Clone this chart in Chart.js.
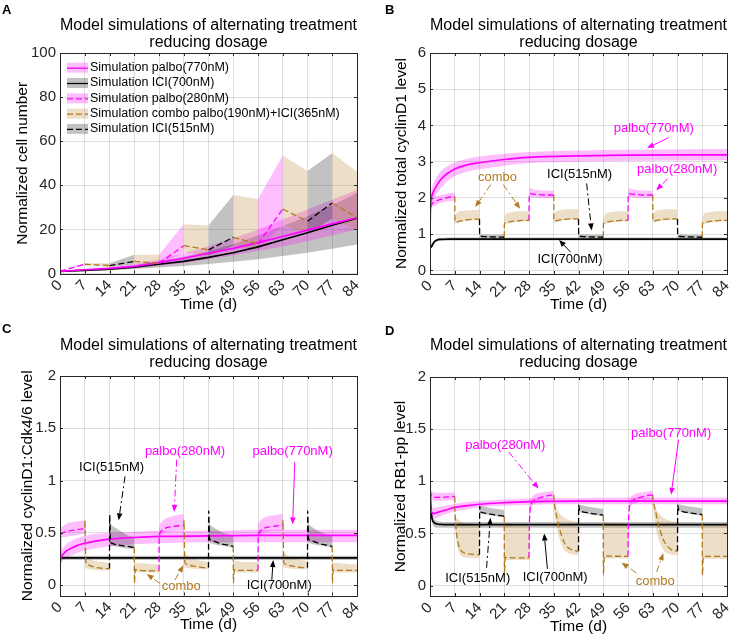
<!DOCTYPE html>
<html><head><meta charset="utf-8"><title>Alternating treatment simulations</title>
<script src="https://cdn.jsdelivr.net/npm/chart.js@4.4.1/dist/chart.umd.min.js"></script>
<style>
html,body{margin:0;padding:0;background:#fff;}
#wrap{position:relative;width:735px;height:639px;overflow:hidden;background:#fff;}
.pnl{position:absolute;}
.pnl canvas{display:block;}
.tag{position:absolute;font:bold 13px "Liberation Sans",Arial,sans-serif;color:#000;line-height:13px;}
</style></head><body>
<div id="wrap">
<div class="pnl" style="left:0;top:0;width:367px;height:320px"><canvas id="cA"></canvas></div>
<div class="pnl" style="left:367px;top:0;width:368px;height:320px"><canvas id="cB"></canvas></div>
<div class="pnl" style="left:0;top:320px;width:367px;height:319px"><canvas id="cC"></canvas></div>
<div class="pnl" style="left:367px;top:320px;width:368px;height:319px"><canvas id="cD"></canvas></div>
<div class="tag" style="left:2px;top:3px">A</div>
<div class="tag" style="left:385px;top:3px">B</div>
<div class="tag" style="left:2px;top:322px">C</div>
<div class="tag" style="left:385px;top:324px">D</div>
</div>
<script>
// ---------------- data ----------------
const days = [0, 7, 14, 21, 28, 35, 42, 49, 56, 63, 70, 77, 84];
const yTicksA = [0, 20, 40, 60, 80, 100];
const yTicksB = [0, 1, 2, 3, 4, 5, 6];
const yTicksCD = [0, 0.5, 1, 1.5, 2];
const altDrug = ['palbo280', 'combo', 'ICI515', 'combo', 'palbo280', 'combo', 'ICI515', 'combo', 'palbo280', 'combo', 'ICI515', 'combo'];
const legendLabels = ['Simulation palbo(770nM)', 'Simulation ICI(700nM)', 'Simulation palbo(280nM)', 'Simulation combo palbo(190nM)+ICI(365nM)', 'Simulation ICI(515nM)'];
const titleLines = ['Model simulations of alternating treatment', 'reducing dosage'];

// Panel A: normalized cell number, weekly samples
const cellPalbo770   = [1, 1.7, 2.3, 3.2, 4.9, 6.9, 9.2, 11.4, 14.0, 16.8, 19.7, 22.5, 25.3];
const cellPalbo770Hi = [1, 2.1, 3.0, 4.4, 6.4, 9.2, 12.4, 16.0, 20.0, 24.5, 29.0, 33.5, 38.0];
const cellPalbo770Lo = [1, 1.4, 1.8, 2.4, 3.5, 4.8, 6.5, 8.2, 10.2, 12.3, 14.6, 17.2, 20.0];
const cellIci700     = [1, 1.4, 2.0, 2.9, 4.2, 5.5, 7.3, 9.4, 12.1, 15.3, 18.5, 21.9, 25.1];
const cellIci700Hi   = [1, 1.8, 2.6, 3.8, 5.6, 7.6, 10.2, 13.3, 17.2, 21.5, 26.0, 31.0, 36.5];
const cellIci700Lo   = [1, 1.1, 1.5, 2.0, 2.7, 3.4, 4.3, 5.3, 6.5, 7.9, 9.4, 11.2, 13.2];
const cellAlt        = [1, 4.2, 3.6, 5.5, 4.6, 12.6, 10.7, 16.4, 13.4, 29.2, 23.7, 32.0, 25.3];
const cellAltHi      = [1, 4.6, 4.6, 8.5, 8.5, 22.3, 21.8, 35.6, 33.8, 53.5, 46.5, 54.6, 46.2];
const cellAltLo      = [1, 3.8, 3.0, 4.2, 3.8, 9.5, 8.0, 12.5, 10.5, 22.0, 18.0, 25.0, 20.0];

// Panels B-D: continuous simulations
const tFine = [0, 0.1, 0.3, 0.6, 1, 2, 3, 5, 7, 10, 14, 21, 28, 42, 56, 84];
const cycPalbo770   = [1.0, 1.6, 1.95, 2.08, 2.18, 2.36, 2.5, 2.68, 2.8, 2.9, 2.97, 3.06, 3.12, 3.16, 3.18, 3.19];
const cycPalbo770Hi = [1.0, 1.75, 2.15, 2.3, 2.42, 2.6, 2.73, 2.88, 2.98, 3.07, 3.14, 3.22, 3.27, 3.31, 3.33, 3.35];
const cycPalbo770Lo = [1.0, 1.45, 1.75, 1.87, 1.95, 2.12, 2.27, 2.47, 2.6, 2.71, 2.79, 2.89, 2.96, 3.0, 3.02, 3.04];
const cycIci700     = [1.0, 0.7, 0.64, 0.68, 0.76, 0.84, 0.855, 0.86, 0.865, 0.865, 0.865, 0.865, 0.865, 0.865, 0.865, 0.865];
const cycIci700Hi   = [1.0, 0.74, 0.68, 0.72, 0.8, 0.88, 0.895, 0.9, 0.905, 0.905, 0.905, 0.905, 0.905, 0.905, 0.905, 0.905];
const cycIci700Lo   = [1.0, 0.66, 0.6, 0.64, 0.72, 0.8, 0.815, 0.82, 0.825, 0.825, 0.825, 0.825, 0.825, 0.825, 0.825, 0.825];

const cdkPalbo770   = [0.14, 0.22, 0.26, 0.28, 0.3, 0.33, 0.35, 0.38, 0.4, 0.42, 0.44, 0.455, 0.465, 0.47, 0.475, 0.475];
const cdkPalbo770Hi = [0.14, 0.26, 0.31, 0.34, 0.36, 0.4, 0.42, 0.45, 0.47, 0.49, 0.5, 0.51, 0.52, 0.52, 0.53, 0.53];
const cdkPalbo770Lo = [0.14, 0.19, 0.21, 0.23, 0.24, 0.26, 0.28, 0.31, 0.33, 0.35, 0.37, 0.39, 0.4, 0.41, 0.41, 0.41];
const cdkIci700     = [1.0, 0.27, 0.26, 0.26, 0.26, 0.26, 0.26, 0.26, 0.26, 0.26, 0.26, 0.26, 0.26, 0.26, 0.26, 0.26];
const cdkIci700Hi   = [1.0, 0.29, 0.28, 0.28, 0.28, 0.28, 0.28, 0.28, 0.28, 0.28, 0.28, 0.28, 0.28, 0.28, 0.28, 0.28];
const cdkIci700Lo   = [1.0, 0.25, 0.24, 0.24, 0.24, 0.24, 0.24, 0.24, 0.24, 0.24, 0.24, 0.24, 0.24, 0.24, 0.24, 0.24];

const rbPalbo770    = [1.0, 0.8, 0.72, 0.7, 0.69, 0.7, 0.71, 0.73, 0.75, 0.765, 0.78, 0.795, 0.805, 0.81, 0.81, 0.81];
const rbPalbo770Hi  = [1.0, 0.84, 0.77, 0.75, 0.745, 0.75, 0.755, 0.77, 0.785, 0.8, 0.81, 0.825, 0.835, 0.84, 0.845, 0.845];
const rbPalbo770Lo  = [1.0, 0.76, 0.67, 0.65, 0.64, 0.65, 0.665, 0.69, 0.71, 0.73, 0.75, 0.765, 0.775, 0.78, 0.78, 0.78];
const rbIci700      = [1.0, 0.85, 0.72, 0.64, 0.61, 0.59, 0.587, 0.585, 0.585, 0.585, 0.585, 0.585, 0.585, 0.585, 0.585, 0.585];
const rbIci700Hi    = [1.0, 0.88, 0.76, 0.68, 0.645, 0.62, 0.612, 0.61, 0.61, 0.61, 0.61, 0.61, 0.61, 0.61, 0.61, 0.61];
const rbIci700Lo    = [1.0, 0.82, 0.68, 0.6, 0.57, 0.555, 0.555, 0.555, 0.555, 0.555, 0.555, 0.555, 0.555, 0.555, 0.555, 0.555];

// Alternating schedule: samples within each 7-day segment (days after segment start)
const segOffsets = [0, 0.05, 0.3, 0.7, 1.5, 3, 5, 7];
const cycAlt = [
  [1.00, 1.50, 1.78, 1.85, 1.90, 1.96, 2.01, 2.04],
  [2.04, 1.40, 1.33, 1.34, 1.36, 1.39, 1.41, 1.42],
  [1.42, 0.96, 0.94, 0.935, 0.93, 0.925, 0.92, 0.915],
  [0.915, 1.30, 1.31, 1.32, 1.34, 1.36, 1.38, 1.38],
  [1.38, 2.00, 2.12, 2.11, 2.10, 2.09, 2.08, 2.08],
  [2.08, 1.42, 1.36, 1.37, 1.39, 1.41, 1.42, 1.42],
  [1.42, 0.96, 0.94, 0.935, 0.93, 0.925, 0.92, 0.915],
  [0.915, 1.30, 1.31, 1.32, 1.34, 1.36, 1.38, 1.38],
  [1.38, 2.00, 2.12, 2.11, 2.10, 2.09, 2.08, 2.08],
  [2.08, 1.42, 1.36, 1.37, 1.39, 1.41, 1.42, 1.42],
  [1.42, 0.96, 0.94, 0.935, 0.93, 0.925, 0.92, 0.915],
  [0.915, 1.30, 1.31, 1.32, 1.34, 1.36, 1.38, 1.38]
];
const cycAltHi = [
  [1.00, 1.60, 1.92, 1.98, 2.03, 2.08, 2.12, 2.15],
  [1.45, 1.45, 1.55, 1.60, 1.63, 1.65, 1.66, 1.67],
  [0.99, 0.99, 0.99, 0.99, 0.99, 0.985, 0.98, 0.98],
  [1.42, 1.42, 1.52, 1.57, 1.60, 1.62, 1.63, 1.63],
  [2.10, 2.10, 2.28, 2.26, 2.23, 2.21, 2.20, 2.20],
  [1.48, 1.48, 1.58, 1.63, 1.66, 1.68, 1.69, 1.69],
  [0.99, 0.99, 0.99, 0.99, 0.99, 0.985, 0.98, 0.98],
  [1.42, 1.42, 1.52, 1.57, 1.60, 1.62, 1.63, 1.63],
  [2.10, 2.10, 2.28, 2.26, 2.23, 2.21, 2.20, 2.20],
  [1.48, 1.48, 1.58, 1.63, 1.66, 1.68, 1.69, 1.69],
  [0.99, 0.99, 0.99, 0.99, 0.99, 0.985, 0.98, 0.98],
  [1.42, 1.42, 1.52, 1.57, 1.60, 1.62, 1.63, 1.63]
];
const cycAltLo = [
  [1.00, 1.40, 1.68, 1.75, 1.80, 1.86, 1.90, 1.93],
  [1.30, 1.30, 1.30, 1.31, 1.33, 1.36, 1.38, 1.39],
  [0.90, 0.90, 0.90, 0.90, 0.90, 0.90, 0.90, 0.90],
  [1.28, 1.28, 1.28, 1.29, 1.31, 1.33, 1.35, 1.35],
  [1.95, 1.95, 2.03, 2.02, 2.01, 2.00, 1.99, 1.99],
  [1.32, 1.32, 1.32, 1.33, 1.35, 1.38, 1.39, 1.39],
  [0.90, 0.90, 0.90, 0.90, 0.90, 0.90, 0.90, 0.90],
  [1.28, 1.28, 1.28, 1.29, 1.31, 1.33, 1.35, 1.35],
  [1.95, 1.95, 2.03, 2.02, 2.01, 2.00, 1.99, 1.99],
  [1.32, 1.32, 1.32, 1.33, 1.35, 1.38, 1.39, 1.39],
  [0.90, 0.90, 0.90, 0.90, 0.90, 0.90, 0.90, 0.90],
  [1.28, 1.28, 1.28, 1.29, 1.31, 1.33, 1.35, 1.35]
];

const cdkAlt = [
  [0.14, 0.46, 0.49, 0.50, 0.51, 0.52, 0.53, 0.54],
  [0.54, 0.62, 0.22, 0.20, 0.185, 0.17, 0.16, 0.155],
  [0.155, 0.67, 0.41, 0.40, 0.39, 0.38, 0.37, 0.36],
  [0.36, 0.02, 0.15, 0.145, 0.14, 0.138, 0.136, 0.135],
  [0.135, 0.47, 0.50, 0.52, 0.54, 0.555, 0.565, 0.57],
  [0.57, 0.62, 0.22, 0.20, 0.19, 0.18, 0.17, 0.165],
  [0.165, 0.71, 0.44, 0.43, 0.42, 0.40, 0.385, 0.37],
  [0.37, 0.02, 0.15, 0.145, 0.14, 0.14, 0.14, 0.14],
  [0.14, 0.47, 0.50, 0.52, 0.54, 0.555, 0.565, 0.57],
  [0.57, 0.62, 0.22, 0.20, 0.19, 0.18, 0.17, 0.165],
  [0.165, 0.71, 0.44, 0.43, 0.42, 0.40, 0.385, 0.37],
  [0.37, 0.02, 0.15, 0.145, 0.14, 0.14, 0.14, 0.14]
];
const cdkAltHi = [
  [0.14, 0.52, 0.55, 0.56, 0.58, 0.60, 0.61, 0.62],
  [0.30, 0.30, 0.28, 0.27, 0.25, 0.23, 0.22, 0.21],
  [0.60, 0.60, 0.59, 0.57, 0.55, 0.52, 0.48, 0.46],
  [0.21, 0.21, 0.21, 0.21, 0.21, 0.205, 0.20, 0.20],
  [0.55, 0.55, 0.58, 0.60, 0.63, 0.65, 0.67, 0.68],
  [0.32, 0.32, 0.30, 0.29, 0.27, 0.25, 0.23, 0.22],
  [0.60, 0.60, 0.59, 0.57, 0.55, 0.52, 0.49, 0.47],
  [0.23, 0.23, 0.23, 0.23, 0.225, 0.22, 0.22, 0.215],
  [0.58, 0.58, 0.60, 0.62, 0.64, 0.66, 0.67, 0.68],
  [0.33, 0.33, 0.31, 0.30, 0.28, 0.26, 0.24, 0.23],
  [0.60, 0.60, 0.59, 0.57, 0.55, 0.52, 0.49, 0.47],
  [0.21, 0.21, 0.21, 0.21, 0.21, 0.205, 0.20, 0.20]
];
const cdkAltLo = [
  [0.14, 0.44, 0.45, 0.46, 0.46, 0.47, 0.48, 0.49],
  [0.16, 0.16, 0.16, 0.155, 0.15, 0.145, 0.14, 0.14],
  [0.38, 0.38, 0.38, 0.37, 0.37, 0.36, 0.35, 0.345],
  [0.125, 0.125, 0.125, 0.125, 0.12, 0.12, 0.12, 0.12],
  [0.44, 0.44, 0.46, 0.48, 0.50, 0.51, 0.52, 0.52],
  [0.17, 0.17, 0.17, 0.165, 0.16, 0.155, 0.15, 0.15],
  [0.41, 0.41, 0.41, 0.40, 0.39, 0.38, 0.37, 0.355],
  [0.125, 0.125, 0.125, 0.125, 0.12, 0.12, 0.12, 0.12],
  [0.44, 0.44, 0.46, 0.48, 0.50, 0.51, 0.52, 0.52],
  [0.17, 0.17, 0.17, 0.165, 0.16, 0.155, 0.15, 0.15],
  [0.41, 0.41, 0.41, 0.40, 0.39, 0.38, 0.37, 0.355],
  [0.125, 0.125, 0.125, 0.125, 0.12, 0.12, 0.12, 0.12]
];

const rbAlt = [
  [1.00, 0.93, 0.87, 0.85, 0.845, 0.845, 0.85, 0.855],
  [0.855, 0.75, 0.58, 0.45, 0.35, 0.31, 0.30, 0.295],
  [0.295, 0.76, 0.71, 0.70, 0.695, 0.685, 0.675, 0.665],
  [0.665, 0.10, 0.27, 0.27, 0.268, 0.266, 0.265, 0.265],
  [0.265, 0.45, 0.72, 0.79, 0.82, 0.84, 0.86, 0.87],
  [0.87, 0.84, 0.76, 0.68, 0.56, 0.41, 0.345, 0.33],
  [0.33, 0.77, 0.72, 0.71, 0.705, 0.695, 0.685, 0.675],
  [0.675, 0.10, 0.285, 0.285, 0.283, 0.282, 0.28, 0.28],
  [0.28, 0.45, 0.72, 0.79, 0.82, 0.84, 0.86, 0.87],
  [0.87, 0.84, 0.78, 0.73, 0.60, 0.44, 0.35, 0.33],
  [0.33, 0.77, 0.73, 0.72, 0.71, 0.70, 0.69, 0.68],
  [0.68, 0.10, 0.28, 0.28, 0.28, 0.28, 0.28, 0.28]
];
const rbAltHi = [
  [1.00, 0.95, 0.91, 0.90, 0.89, 0.89, 0.89, 0.895],
  [0.66, 0.66, 0.65, 0.64, 0.62, 0.60, 0.59, 0.58],
  [0.77, 0.77, 0.765, 0.76, 0.755, 0.745, 0.735, 0.725],
  [0.61, 0.61, 0.61, 0.60, 0.60, 0.59, 0.585, 0.58],
  [0.50, 0.50, 0.78, 0.84, 0.87, 0.89, 0.90, 0.91],
  [0.88, 0.86, 0.80, 0.75, 0.70, 0.65, 0.62, 0.61],
  [0.78, 0.78, 0.775, 0.77, 0.765, 0.755, 0.745, 0.735],
  [0.62, 0.62, 0.62, 0.61, 0.61, 0.60, 0.595, 0.59],
  [0.50, 0.50, 0.78, 0.84, 0.87, 0.89, 0.90, 0.91],
  [0.88, 0.86, 0.80, 0.75, 0.70, 0.65, 0.62, 0.61],
  [0.78, 0.78, 0.78, 0.775, 0.77, 0.76, 0.75, 0.74],
  [0.60, 0.60, 0.60, 0.595, 0.59, 0.585, 0.58, 0.58]
];
const rbAltLo = [
  [1.00, 0.90, 0.84, 0.82, 0.81, 0.81, 0.815, 0.82],
  [0.62, 0.60, 0.48, 0.38, 0.30, 0.27, 0.265, 0.26],
  [0.70, 0.70, 0.70, 0.69, 0.685, 0.675, 0.665, 0.655],
  [0.245, 0.245, 0.245, 0.245, 0.245, 0.245, 0.245, 0.245],
  [0.40, 0.40, 0.67, 0.75, 0.78, 0.80, 0.81, 0.82],
  [0.80, 0.76, 0.68, 0.58, 0.46, 0.34, 0.30, 0.29],
  [0.71, 0.71, 0.71, 0.70, 0.695, 0.685, 0.675, 0.665],
  [0.26, 0.26, 0.26, 0.26, 0.26, 0.26, 0.26, 0.26],
  [0.40, 0.40, 0.67, 0.75, 0.78, 0.80, 0.81, 0.82],
  [0.80, 0.76, 0.68, 0.58, 0.46, 0.34, 0.30, 0.29],
  [0.72, 0.72, 0.72, 0.71, 0.70, 0.69, 0.68, 0.67],
  [0.255, 0.255, 0.255, 0.255, 0.255, 0.255, 0.255, 0.255]
];

// ---------------- styles ----------------
const FONT = '"Liberation Sans", Arial, Helvetica, sans-serif';
const C_MAG = '#FF00FF', C_BRN = '#B27A1E', C_BLK = '#000000';
const F_PINK = 'rgba(255,0,255,0.25)', F_TAN = 'rgba(178,122,30,0.25)', F_GREY = 'rgba(0,0,0,0.24)';
const GRID = 'rgba(38,38,38,0.15)', AXC = '#262626';
const DASH = [6, 3];
const drugStyle = {
  palbo280: {line: C_MAG, fill: F_PINK},
  combo: {line: C_BRN, fill: F_TAN},
  ICI515: {line: C_BLK, fill: F_GREY}
};
Chart.defaults.font.family = FONT;
Chart.defaults.animation = false;

function pts(xs, ys) { return xs.map((x, i) => ({x: x, y: ys[i]})); }
function lineDS(xs, ys, color, dash, w, smooth) {
  return {data: pts(xs, ys), borderColor: color, backgroundColor: color, borderWidth: w, borderDash: dash,
    pointRadius: 0, pointHoverRadius: 0, fill: false, tension: 0, cubicInterpolationMode: smooth ? 'monotone' : 'default'};
}
function bandDS(xs, lo, hi, col, smooth) {
  const base = {borderWidth: 0, borderColor: 'rgba(0,0,0,0)', pointRadius: 0, pointHoverRadius: 0, tension: 0,
    cubicInterpolationMode: smooth ? 'monotone' : 'default'};
  return [Object.assign({data: pts(xs, lo), fill: false}, base),
          Object.assign({data: pts(xs, hi), fill: '-1', backgroundColor: col}, base)];
}

// Panel A datasets
function datasetsA() {
  const lines = [], bands = [];
  for (let k = 0; k < altDrug.length; k++) {
    const xs = [days[k], days[k + 1]];
    const st = drugStyle[altDrug[k]];
    lines.push(lineDS(xs, [cellAlt[k], cellAlt[k + 1]], st.line, DASH, 1.3, false));
    bands.push(...bandDS(xs, [cellAltLo[k], cellAltLo[k + 1]], [cellAltHi[k], cellAltHi[k + 1]], st.fill, false));
  }
  lines.push(lineDS(days, cellPalbo770, C_MAG, [], 1.7, false));
  lines.push(lineDS(days, cellIci700, C_BLK, [], 1.7, false));
  bands.push(...bandDS(days, cellPalbo770Lo, cellPalbo770Hi, F_PINK, false));
  bands.push(...bandDS(days, cellIci700Lo, cellIci700Hi, F_GREY, false));
  return lines.concat(bands);
}
// Panels B-D datasets
function datasetsBCD(pal, palHi, palLo, ici, iciHi, iciLo, alt, altHi, altLo) {
  const lines = [], bands = [];
  for (let k = 0; k < altDrug.length; k++) {
    const xs = segOffsets.map(o => days[k] + o);
    const st = drugStyle[altDrug[k]];
    lines.push(lineDS(xs, alt[k], st.line, DASH, 1.3, true));
    bands.push(...bandDS(xs, altLo[k], altHi[k], st.fill, true));
  }
  lines.push(lineDS(tFine, pal, C_MAG, [], 1.7, true));
  lines.push(lineDS(tFine, ici, C_BLK, [], 1.7, true));
  bands.push(...bandDS(tFine, palLo, palHi, F_PINK, true));
  bands.push(...bandDS(tFine, iciLo, iciHi, F_GREY, true));
  return lines.concat(bands);
}

// annotations (text + arrows, in data units)
const notesB = [
  {text: 'palbo(770nM)', color: C_MAG, at: [63.3, 3.93], arrows: [[67.5, 3.66, 61.4, 3.38]], dash: false},
  {text: 'palbo(280nM)', color: C_MAG, at: [69.9, 2.78], arrows: [[67.2, 2.53, 64.0, 2.21]], dash: true},
  {text: 'combo', color: C_BRN, at: [19.1, 2.57], arrows: [[17.2, 2.37, 12.8, 1.75], [20.7, 2.37, 25.5, 1.7]], dash: true},
  {text: 'ICI(515nM)', color: C_BLK, at: [42.3, 2.64], arrows: [[44.3, 2.4, 45.7, 1.1]], dash: true},
  {text: 'ICI(700nM)', color: C_BLK, at: [39.6, 0.3], arrows: [[39.8, 0.5, 36.5, 0.84]], dash: false}
];
const notesC = [
  {text: 'ICI(515nM)', color: C_BLK, at: [14.6, 1.13], arrows: [[18.4, 1.04, 16.6, 0.62]], dash: true},
  {text: 'palbo(280nM)', color: C_MAG, at: [35.35, 1.28], arrows: [[33.0, 1.2, 32.3, 0.7]], dash: true},
  {text: 'palbo(770nM)', color: C_MAG, at: [65.8, 1.28], arrows: [[66.4, 1.18, 65.8, 0.58]], dash: false},
  {text: 'combo', color: C_BRN, at: [34.3, -0.016], arrows: [[28.3, 0.016, 24.5, 0.105], [32.5, 0.048, 34.9, 0.19]], dash: true},
  {text: 'ICI(700nM)', color: C_BLK, at: [62.0, -0.006], arrows: [[59.9, 0.05, 60.3, 0.24]], dash: false}
];
const notesD = [
  {text: 'palbo(280nM)', color: C_MAG, at: [21.3, 1.34], arrows: [[22.3, 1.28, 30.7, 0.93]], dash: true},
  {text: 'palbo(770nM)', color: C_MAG, at: [68.2, 1.46], arrows: [[70.3, 1.4, 68.2, 0.87]], dash: false},
  {text: 'ICI(515nM)', color: C_BLK, at: [13.5, 0.07], arrows: [[16.0, 0.17, 17.1, 0.65]], dash: true},
  {text: 'ICI(700nM)', color: C_BLK, at: [35.4, 0.08], arrows: [[33.2, 0.16, 32.3, 0.5]], dash: false},
  {text: 'combo', color: C_BRN, at: [63.7, 0.04], arrows: [[58.4, 0.12, 54.2, 0.22], [64.1, 0.13, 66.0, 0.31]], dash: true}
];
const legendItems = [
  {text: legendLabels[0], fill: F_PINK, line: C_MAG, dash: []},
  {text: legendLabels[1], fill: F_GREY, line: C_BLK, dash: []},
  {text: legendLabels[2], fill: F_PINK, line: C_MAG, dash: DASH},
  {text: legendLabels[3], fill: F_TAN, line: C_BRN, dash: DASH},
  {text: legendLabels[4], fill: F_GREY, line: C_BLK, dash: DASH}
];

const extras = {};

function drawArrow(ctx, x1, y1, x2, y2, color, dashed) {
  const ang = Math.atan2(y2 - y1, x2 - x1), hl = 7, hw = 2.8;
  const bx = x2 - hl * Math.cos(ang), by = y2 - hl * Math.sin(ang);
  ctx.save();
  ctx.strokeStyle = color; ctx.fillStyle = color; ctx.lineWidth = 1;
  ctx.setLineDash(dashed ? [7, 3, 2, 3] : []);
  ctx.beginPath(); ctx.moveTo(x1, y1); ctx.lineTo(bx, by); ctx.stroke();
  ctx.setLineDash([]);
  ctx.beginPath(); ctx.moveTo(x2, y2);
  ctx.lineTo(bx - hw * Math.sin(ang), by + hw * Math.cos(ang));
  ctx.lineTo(bx + hw * Math.sin(ang), by - hw * Math.cos(ang));
  ctx.closePath(); ctx.fill();
  ctx.restore();
}

const decor = {
  id: 'decor',
  afterLayout(chart) {
    const tb = chart.titleBlock, ca = chart.chartArea;
    if (tb && ca) { tb.left = ca.left - 40; tb.right = ca.right + 40; tb.width = tb.right - tb.left; }
  },
  afterDatasetsDraw(chart) {
    const ex = extras[chart.canvas.id]; if (!ex) return;
    const ctx = chart.ctx, ca = chart.chartArea, xs = chart.scales.x, ys = chart.scales.y;
    ctx.save();
    // inward tick marks
    ctx.strokeStyle = AXC; ctx.lineWidth = 1; ctx.beginPath();
    days.forEach(v => { const px = Math.round(xs.getPixelForValue(v)) + 0.5;
      ctx.moveTo(px, ca.bottom); ctx.lineTo(px, ca.bottom - 3); ctx.moveTo(px, ca.top); ctx.lineTo(px, ca.top + 3); });
    ex.yTicks.forEach(v => { const py = Math.round(ys.getPixelForValue(v)) + 0.5;
      ctx.moveTo(ca.left, py); ctx.lineTo(ca.left + 3, py); ctx.moveTo(ca.right, py); ctx.lineTo(ca.right - 3, py); });
    ctx.stroke();
    // box
    ctx.strokeRect(Math.round(ca.left) + 0.5, Math.round(ca.top) + 0.5, Math.round(ca.right - ca.left), Math.round(ca.bottom - ca.top));
    // legend
    if (ex.legend) {
      ctx.font = '12.5px ' + FONT; ctx.textBaseline = 'middle'; ctx.textAlign = 'left';
      ex.legend.forEach((it, i) => {
        const y = ca.top + 14.7 + i * 15.3, x0 = ca.left + 7;
        ctx.fillStyle = it.fill; ctx.fillRect(x0, y - 5, 21, 10);
        ctx.strokeStyle = it.line; ctx.lineWidth = 1.3; ctx.setLineDash(it.dash);
        ctx.beginPath(); ctx.moveTo(x0, y + 0.5); ctx.lineTo(x0 + 21, y + 0.5); ctx.stroke();
        ctx.setLineDash([]);
        ctx.fillStyle = '#000'; ctx.fillText(it.text, x0 + 23, y);
      });
    }
    // annotations
    if (ex.notes) {
      ex.notes.forEach(n => {
        n.arrows.forEach(a => drawArrow(ctx, xs.getPixelForValue(a[0]), ys.getPixelForValue(a[1]),
          xs.getPixelForValue(a[2]), ys.getPixelForValue(a[3]), n.color, n.dash));
        ctx.font = '13px ' + FONT; ctx.textAlign = 'center'; ctx.textBaseline = 'middle'; ctx.fillStyle = n.color;
        ctx.fillText(n.text, xs.getPixelForValue(n.at[0]), ys.getPixelForValue(n.at[1]));
      });
    }
    ctx.restore();
  }
};
Chart.register(decor);

function makeChart(id, p) {
  extras[id] = {yTicks: p.yTicks, legend: p.legend, notes: p.notes};
  return new Chart(document.getElementById(id), {
    type: 'line',
    data: {datasets: p.datasets},
    options: {
      responsive: true, maintainAspectRatio: false, animation: false,
      layout: {padding: {left: 0, right: p.padRight, top: 0, bottom: 0}},
      events: [],
      plugins: {
        legend: {display: false}, tooltip: {enabled: false},
        filler: {drawTime: 'beforeDatasetsDraw'},
        title: {display: true, text: titleLines, color: '#000',
          font: {family: FONT, size: 16, weight: 'normal', lineHeight: 1.0625},
          padding: {top: 17.5, bottom: p.titleBottom}}
      },
      scales: {
        x: {type: 'linear', min: 0, max: 84,
          afterBuildTicks: s => { s.ticks = days.map(v => ({value: v})); },
          afterFit: s => { s.height = p.xAxisH; s.paddingLeft = 0; s.paddingRight = 0; },
          grid: {color: GRID, drawTicks: false}, border: {display: false},
          ticks: {autoSkip: false, minRotation: 45, maxRotation: 45, padding: 3, color: AXC,
            font: {family: FONT, size: 15}, callback: v => String(v)},
          title: {display: true, text: 'Time (d)', color: '#000', font: {family: FONT, size: 15.5},
            padding: {top: 0, bottom: p.xTitlePad}}},
        y: {type: 'linear', min: p.yMin, max: p.yMax,
          afterBuildTicks: s => { s.ticks = p.yTicks.map(v => ({value: v})); },
          afterFit: s => { s.width = p.yAxisW; s.paddingTop = 0; s.paddingBottom = 0; },
          grid: {color: GRID, drawTicks: false}, border: {display: false},
          ticks: {padding: 4, color: AXC, font: {family: FONT, size: 15}, callback: v => String(v)},
          title: {display: true, text: p.yTitle, color: '#000', font: {family: FONT, size: 15.5},
            padding: {top: p.yTitlePad, bottom: 0}}}
      }
    }
  });
}

makeChart('cA', {datasets: datasetsA(), yTicks: yTicksA, yMin: 0, yMax: 100, yTitle: 'Normalized cell number',
  yAxisW: 60, padRight: 10, titleBottom: 1.5, xAxisH: 46.5, xTitlePad: 5.7, yTitlePad: 13.2, legend: legendItems});
makeChart('cB', {datasets: datasetsBCD(cycPalbo770, cycPalbo770Hi, cycPalbo770Lo, cycIci700, cycIci700Hi, cycIci700Lo, cycAlt, cycAltHi, cycAltLo),
  yTicks: yTicksB, yMin: -0.1, yMax: 6, yTitle: 'Normalized total cyclinD1 level',
  yAxisW: 63, padRight: 8, titleBottom: 1.5, xAxisH: 46, xTitlePad: 5.7, yTitlePad: 25.7, notes: notesB});
makeChart('cC', {datasets: datasetsBCD(cdkPalbo770, cdkPalbo770Hi, cdkPalbo770Lo, cdkIci700, cdkIci700Hi, cdkIci700Lo, cdkAlt, cdkAltHi, cdkAltLo),
  yTicks: yTicksCD, yMin: -0.1, yMax: 2, yTitle: 'Normalized cyclinD1:Cdk4/6 level',
  yAxisW: 60, padRight: 10, titleBottom: 4.5, xAxisH: 43.5, xTitlePad: 4.7, yTitlePad: 18.7, notes: notesC});
makeChart('cD', {datasets: datasetsBCD(rbPalbo770, rbPalbo770Hi, rbPalbo770Lo, rbIci700, rbIci700Hi, rbIci700Lo, rbAlt, rbAltHi, rbAltLo),
  yTicks: yTicksCD, yMin: -0.1, yMax: 2, yTitle: 'Normalized RB1-pp level',
  yAxisW: 63, padRight: 8, titleBottom: 5.5, xAxisH: 43, xTitlePad: 3.3, yTitlePad: 24.2, notes: notesD});
</script>
</body></html>
